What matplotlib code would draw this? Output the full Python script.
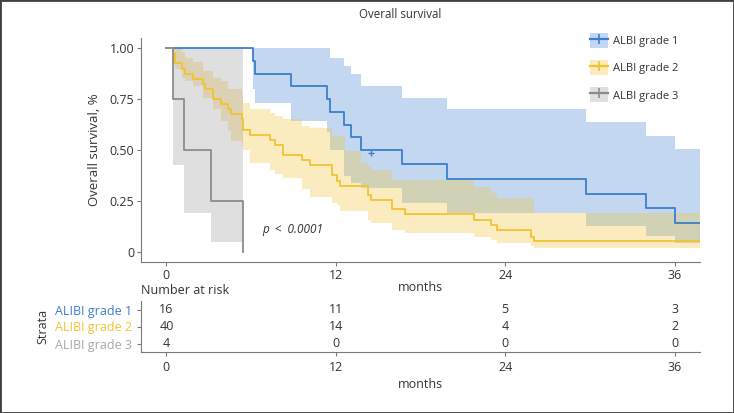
import matplotlib
matplotlib.use("Agg")
import matplotlib.pyplot as plt
from matplotlib.lines import Line2D
from matplotlib.patches import Patch, Rectangle
import numpy as np

plt.rcParams['font.family'] = ['Open Sans', 'DejaVu Sans']

# survival steps (months, survival, CI upper, CI lower)
g1_time = [0, 6.1, 6.3, 8.8, 11.36, 11.6, 12.6, 13.07, 13.8, 16.7, 19.9, 29.7, 34.0, 36.05, 37.8]
g1_surv = [1, 0.9375, 0.875, 0.8125, 0.75, 0.6875, 0.625, 0.5625, 0.5, 0.429, 0.357, 0.286, 0.214, 0.143, 0.143]
g1_up = [1, 1, 1, 1, 1, 0.954, 0.913, 0.872, 0.814, 0.757, 0.70, 0.637, 0.571, 0.507, 0.507]
g1_lo = [1, 0.80, 0.732, 0.642, 0.59, 0.50, 0.371, 0.34, 0.314, 0.24, 0.19, 0.128, 0.079, 0.043, 0.043]

g2_time = [0, 0.47, 0.59, 1.07, 1.30, 1.89, 2.6, 2.72, 3.31, 3.9, 4.38, 4.61, 5.32, 5.44, 5.92,
           7.34, 7.69, 8.28, 9.59, 10.18, 11.72, 12.07, 12.3, 12.66, 13.8, 14.3, 14.5, 15.98,
           16.92, 21.78, 22.96, 23.44, 25.8, 26.04, 37.8]
g2_surv = [1, 0.975, 0.925, 0.90, 0.875, 0.85, 0.825, 0.80, 0.75, 0.725, 0.70, 0.675, 0.65, 0.60, 0.575,
           0.55, 0.525, 0.475, 0.45, 0.425, 0.375, 0.35, 0.325, 0.325, 0.325, 0.28, 0.255, 0.21,
           0.185, 0.155, 0.13, 0.105, 0.075, 0.055, 0.055]
g2_up = [1, 1, 1, 0.98, 0.954, 0.93, 0.888, 0.888, 0.855, 0.84, 0.80, 0.80, 0.765, 0.73, 0.70,
         0.683, 0.665, 0.65, 0.62, 0.61, 0.57, 0.57, 0.57, 0.494, 0.437, 0.42, 0.40, 0.355,
         0.355, 0.32, 0.29, 0.264, 0.264, 0.19, 0.19]
g2_lo = [1, 0.93, 0.897, 0.855, 0.84, 0.814, 0.757, 0.757, 0.70, 0.642, 0.593, 0.544, 0.52, 0.50, 0.437,
         0.404, 0.38, 0.363, 0.31, 0.27, 0.24, 0.23, 0.20, 0.20, 0.20, 0.158, 0.14, 0.108,
         0.092, 0.072, 0.06, 0.043, 0.03, 0.018, 0.018]

g3_time = [0, 0.47, 1.26, 3.17, 5.4]
g3_surv = [1, 0.75, 0.5, 0.25, 0]
g3_up = [1, 1, 1, 1, 1]
g3_lo = [1, 0.428, 0.19, 0.048, 0.048]

g1_censor = [14.5]

groups = ['ALBI grade 1', 'ALBI grade 2', 'ALBI grade 3']
table_labels = ['ALIBI grade 1', 'ALIBI grade 2', 'ALIBI grade 3']
risk_times = [0, 12, 24, 36]
risk_g1 = [16, 11, 5, 3]
risk_g2 = [40, 14, 4, 2]
risk_g3 = [4, 0, 0, 0]

c1, c2, c3 = '#3a7fcf', '#f2c230', '#8c8c8c'
txt = '#333333'
spine = '#7a7a7a'

W, H = 734, 413
fig = plt.figure(figsize=(W / 100, H / 100), dpi=100)

def box(l, t, r, b):
    return [l / W, 1 - b / H, (r - l) / W, (b - t) / H]

# ---- survival curves
ax = fig.add_axes(box(141, 38, 700, 262))
curves = [(g1_time, g1_surv, g1_up, g1_lo, c1),
          (g2_time, g2_surv, g2_up, g2_lo, c2),
          (g3_time, g3_surv, g3_up, g3_lo, '#969696')]
for t, s, up, lo, col in curves:
    ax.fill_between(t, lo, up, step='post', color=col, alpha=0.3, lw=0)
ax.step(g1_time, g1_surv, where='post', color=c1, lw=1.3)
ax.step(g2_time, g2_surv, where='post', color=c2, lw=1.3)
ax.step(g3_time, g3_surv, where='post', color=c3, lw=1.3)
ax.plot(g1_censor, [np.interp(14.5, g1_time, g1_surv)], '+', color=c1, ms=5, mew=1)

ax.set_xlim(-1.8, 37.8)
ax.set_ylim(-0.05, 1.05)
ax.set_xticks(risk_times)
ax.set_yticks([0, 0.25, 0.5, 0.75, 1.0])
ax.set_yticklabels(['0', '0.25', '0.50', '0.75', '1.00'])
ax.set_xlabel('months', fontsize=9, color=txt, labelpad=-1)
ax.set_ylabel('Overall survival, %', fontsize=9.5, color=txt, labelpad=6)
ax.text(6.8, 0.11, 'p  <  0.0001', fontsize=8.5, style='italic', color=txt, va='center')
for side in ['top', 'right']:
    ax.spines[side].set_visible(False)
for side in ['left', 'bottom']:
    ax.spines[side].set_color(spine)
ax.tick_params(colors=spine, labelcolor=txt, labelsize=9, length=3, pad=2)

fig.text(400 / W, 1 - 15 / H, 'Overall survival', fontsize=8.3, color=txt, ha='center', va='center')

handles = []
for col, fc in [(c1, c1), (c2, c2), (c3, '#969696')]:
    handles.append((Patch(facecolor=fc, alpha=0.3, edgecolor='none'),
                    Line2D([], [], color=col, lw=1.6, marker='|', ms=7, mew=1.2)))
fig.legend(handles, groups, loc='upper left', bbox_to_anchor=(580 / W, 1 - 23 / H),
           frameon=False, fontsize=8, labelspacing=1.1, handlelength=1.6, handleheight=1.7,
           handletextpad=0.5, labelcolor=txt)

# ---- number at risk table
tab = fig.add_axes(box(141, 301, 700, 352))
tab.set_xlim(-1.8, 37.8)
tab.set_ylim(3.5, 0.5)
for row, vals in enumerate([risk_g1, risk_g2, risk_g3], start=1):
    for t, v in zip(risk_times, vals):
        tab.text(t, row, str(v), ha='center', va='center', fontsize=9, color=txt)
tab.set_xticks(risk_times)
tab.set_yticks([1, 2, 3])
tab.set_yticklabels(table_labels)
tab.set_xlabel('months', fontsize=9, color=txt, labelpad=3)
tab.set_ylabel('Strata', fontsize=9, color=txt, labelpad=4)
for side in ['top', 'right']:
    tab.spines[side].set_visible(False)
for side in ['left', 'bottom']:
    tab.spines[side].set_color(spine)
tab.tick_params(colors=spine, labelcolor=txt, labelsize=9, length=3, pad=3.5)
for lab, col in zip(tab.get_yticklabels(), [c1, c2, '#a8a8a8']):
    lab.set_color(col)
fig.text(141 / W, 1 - 291 / H, 'Number at risk', fontsize=9, color=txt, ha='left', va='center')

fig.patches.append(Rectangle((0, 0), 1, 1, transform=fig.transFigure, fill=False,
                             edgecolor='#404040', lw=2))

fig.savefig('out.png', dpi=100)
